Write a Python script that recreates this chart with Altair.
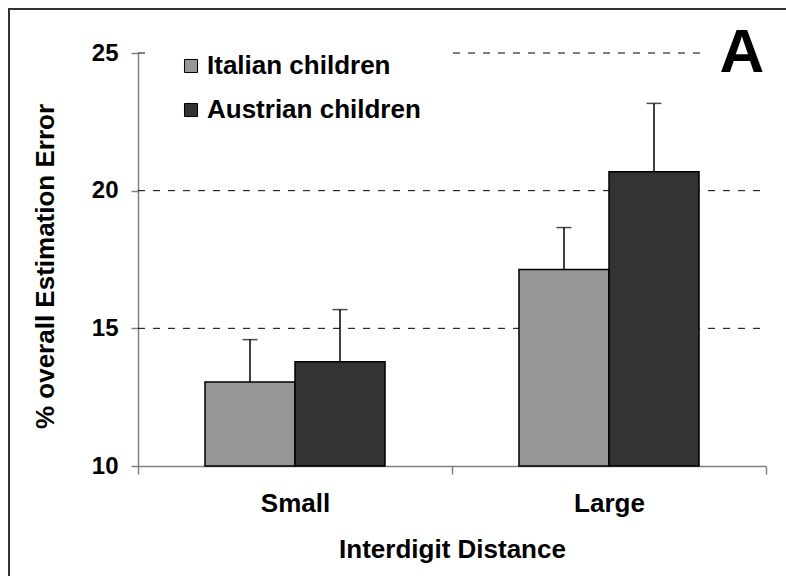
import altair as alt
import pandas as pd

categories = ["Small", "Large"]
groups = ["Italian children", "Austrian children"]
italian_mean = [13.05, 17.14]
italian_err = [1.54, 1.52]
austrian_mean = [13.79, 20.69]
austrian_err = [1.89, 2.48]
y_ticks = [10, 15, 20, 25]
grid_values = [15, 20, 25]
colors = ["#969696", "#333333"]

rows = []
for i, c in enumerate(categories):
    rows.append(dict(cat=c, group=groups[0], mean=italian_mean[i], top=italian_mean[i] + italian_err[i]))
    rows.append(dict(cat=c, group=groups[1], mean=austrian_mean[i], top=austrian_mean[i] + austrian_err[i]))
df = pd.DataFrame(rows)

W, H = 628, 413
FONT = "Liberation Sans"

y_scale = alt.Scale(domain=[10, 25], zero=False, nice=False)
y_axis = alt.Axis(values=y_ticks, title="% overall Estimation Error", grid=False, tickSize=7,
                  domainColor="#808080", tickColor="#808080", domainWidth=1.5, tickWidth=1.5,
                  labelPadding=13, labelFontSize=24, titleFontSize=26,
                  titleX=-80, titleY=213)
x_enc = alt.X("cat:N", sort=categories,
              scale=alt.Scale(paddingInner=0, paddingOuter=0),
              axis=alt.Axis(title="Interdigit Distance", labelAngle=0, tickBand="extent",
                            tickSize=8, domainColor="#808080", tickColor="#808080",
                            domainWidth=1.5, tickWidth=1.5,
                            labelFontSize=26, titleFontSize=26, labelPadding=16, titlePadding=20))
xoff = alt.XOffset("group:N", sort=groups, scale=alt.Scale(paddingInner=0, paddingOuter=0.744))
color = alt.Color("group:N", sort=groups, scale=alt.Scale(domain=groups, range=colors),
                  legend=alt.Legend(title=None, orient="none", legendX=10, legendY=-30,
                                    fillColor="white", padding=30, symbolType="square",
                                    symbolSize=170, symbolStrokeColor="black", symbolStrokeWidth=1,
                                    labelFont=FONT, labelFontSize=26, labelFontWeight="bold",
                                    labelColor="black", rowPadding=18, labelOffset=3, labelLimit=0))

base = alt.Chart(df)

grid = alt.Chart(pd.DataFrame({"v": grid_values})).mark_rule(
    color="black", strokeDash=[7, 8], strokeWidth=1
).encode(y=alt.Y("v:Q", scale=y_scale, axis=y_axis), x=alt.value(0), x2=alt.value(W))

cover = alt.Chart(pd.DataFrame({"t": ["A"]})).mark_rect(color="white").encode(
    x=alt.value(566), x2=alt.value(634), y=alt.value(-30), y2=alt.value(32))

bars = base.mark_bar(stroke="black", strokeWidth=1.5).encode(
    x=x_enc, xOffset=xoff,
    y=alt.Y("mean:Q", scale=y_scale, axis=y_axis), y2=alt.datum(10),
    color=color)

err = base.mark_rule(color="black", strokeWidth=1.5).encode(
    x=x_enc, xOffset=xoff,
    y=alt.Y("mean:Q", scale=y_scale, axis=y_axis), y2="top:Q")

caps = base.mark_tick(color="black", orient="horizontal", size=15, thickness=1.5).encode(
    x=x_enc, xOffset=xoff,
    y=alt.Y("top:Q", scale=y_scale, axis=y_axis))

letter = alt.Chart(pd.DataFrame({"t": ["A"]})).mark_text(
    font=FONT, fontSize=62, fontWeight="bold", color="black", align="center", baseline="alphabetic"
).encode(text="t:N", x=alt.value(604), y=alt.value(19))

frame = alt.Chart(pd.DataFrame({"t": ["A"]})).mark_rect(
    fillOpacity=0, stroke="#333333", strokeWidth=2
).encode(x=alt.value(-129), x2=alt.value(W + 100), y=alt.value(-44), y2=alt.value(H + 200))

chart = alt.layer(grid, cover, bars, err, caps, letter, frame).properties(
    width=W, height=H,
    autosize=alt.AutoSizeParams(type="none"),
    padding={"left": 138, "top": 53, "right": 20, "bottom": 110},
    background="white",
).configure_axis(
    labelFont=FONT, titleFont=FONT, labelFontWeight="bold", titleFontWeight="bold",
    labelColor="black", titleColor="black",
).configure_view(stroke=None)

chart.save("out.html", embed_options={"renderer": "svg", "actions": False})
